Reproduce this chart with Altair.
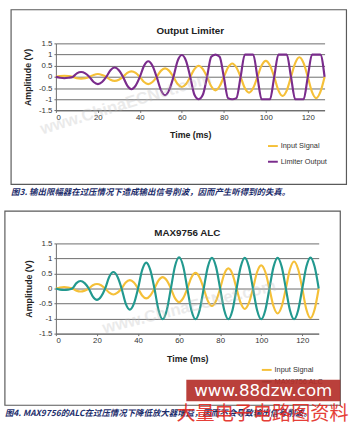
import altair as alt
import pandas as pd

# ---------------- data ----------------
TIME_MS = [0, 2, 4, 6, 8, 10, 12, 14, 16, 18, 20, 22, 24, 26, 28, 30, 32, 34, 36, 38,
           40, 42, 44, 46, 48, 50, 52, 54, 56, 58, 60, 62, 64, 66, 68, 70, 72, 74, 76, 78,
           80, 82, 84, 86, 88, 90, 92, 94, 96, 98, 100, 102, 104, 106, 108, 110, 112, 114,
           116, 118, 120, 122, 124, 126, 128]

TOP_INPUT = [0, 0.035, 0.05, 0.035, 0, -0.06, -0.08, -0.06, 0, 0.09, 0.13, 0.09,
             0, -0.13, -0.18, -0.13, 0, 0.18, 0.25, 0.18, 0, -0.23, -0.32, -0.23,
             0, 0.27, 0.38, 0.27, 0, -0.32, -0.45, -0.32, 0, 0.35, 0.5, 0.35,
             0, -0.42, -0.6, -0.42, 0, 0.42, 0.6, 0.42, 0, -0.5, -0.7, -0.5,
             0, 0.51, 0.72, 0.51, 0, -0.6, -0.85, -0.6, 0, 0.62, 0.88, 0.62,
             0, -0.67, -0.95, -0.67, 0]

TOP_LIMITER = [0, -0.04, -0.06, -0.04, 0, 0.16, 0.22, 0.16, 0, -0.23, -0.32, -0.23,
               0, 0.3, 0.42, 0.3, 0, -0.39, -0.55, -0.39, 0, 0.5, 0.7, 0.5,
               0, -0.58, -0.82, -0.58, 0, 0.72, 0.98, 0.72, 0, -0.8, -1, -0.8,
               0, 0.9, 1, 0.9, 0, -0.95, -1, -0.95, 0, 1, 1, 1,
               0, -1, -1, -1, 0, 1, 1, 1, 0, -1, -1, -1,
               0, 1, 1, 1, 0]

BOTTOM_INPUT = [0, 0.035, 0.05, 0.035, 0, -0.07, -0.1, -0.07, 0, 0.11, 0.15, 0.11,
                0, -0.14, -0.2, -0.14, 0, 0.2, 0.28, 0.2, 0, -0.23, -0.33, -0.23,
                0, 0.27, 0.38, 0.27, 0, -0.32, -0.45, -0.32, 0, 0.37, 0.52, 0.37,
                0, -0.41, -0.58, -0.41, 0, 0.48, 0.67, 0.48, 0, -0.48, -0.68, -0.48,
                0, 0.55, 0.77, 0.55, 0, -0.59, -0.83, -0.59, 0, 0.64, 0.9, 0.64,
                0, -0.7, -0.98, -0.7, 0]

BOTTOM_ALC = [0, -0.035, -0.05, -0.035, 0, 0.18, 0.25, 0.18, 0, -0.27, -0.38, -0.27,
              0, 0.39, 0.55, 0.39, 0, -0.5, -0.7, -0.5, 0, 0.61, 0.86, 0.61,
              0, -0.72, -1.02, -0.72, 0, 0.74, 1.04, 0.74, 0, -0.72, -1.02, -0.72,
              0, 0.72, 1.02, 0.72, 0, -0.72, -1.02, -0.72, 0, 0.72, 1.02, 0.72,
              0, -0.72, -1.02, -0.72, 0, 0.72, 1.02, 0.72, 0, -0.72, -1.02, -0.72,
              0, 0.73, 1.03, 0.73, 0]

X_TICKS = [0, 20, 40, 60, 80, 100, 120]
Y_TICKS = [-1.5, -1, -0.5, 0, 0.5, 1, 1.5]

TOP_TITLE = "Output Limiter"
BOTTOM_TITLE = "MAX9756 ALC"
TOP_SERIES = ["Input Signal", "Limiter Output"]
BOTTOM_SERIES = ["Input Signal", "MAX9756 ALC"]
TOP_CAPTION = "图3. 输出限幅器在过压情况下造成输出信号削波，因而产生听得到的失真。"
BOTTOM_CAPTION = "图4. MAX9756的ALC在过压情况下降低放大器增益，因而不会导致输出信号削波。"
WATERMARK_FAINT = "www.ChinaECNet.com"
WATERMARK_URL = "www.88dzw.com"
WATERMARK_CN = "大量电子电路图资料"

YELLOW = "#f5c038"
PURPLE = "#7a2c8c"
TEAL = "#22998f"
GRID = "#6b6b6b"
NAVY = "#1c2d6b"

FONT = "Liberation Sans"
CJK = "Noto Sans CJK SC"

ONE = alt.Data(values=[{"k": 0}])


def long_df(names, series):
    rows = []
    for name, vals in zip(names, series):
        for t, v in zip(TIME_MS, vals):
            rows.append({"t": t, "v": v, "s": name})
    return pd.DataFrame(rows)


def vrect(x, x2, y, y2, **kw):
    return alt.Chart(ONE).mark_rect(**kw).encode(
        x=alt.value(x), x2=alt.value(x2), y=alt.value(y), y2=alt.value(y2))


def vtext(txt, x, y, **kw):
    return alt.Chart(ONE).mark_text(text=txt, **kw).encode(x=alt.value(x), y=alt.value(y))


def vrule(x, x2, y, color):
    return alt.Chart(ONE).mark_rule(color=color, strokeWidth=2).encode(
        x=alt.value(x), x2=alt.value(x2), y=alt.value(y))


def panel(ox, oy, w, h, cell_top, cell_bottom, box, title, names, series, colors,
          caption, legend_y, faint, extra=None):
    # helpers converting absolute page pixels into plot-relative pixels
    X = lambda a: a - ox
    Y = lambda a: a - oy
    df = long_df(names, series)
    xenc = alt.X("t:Q", scale=alt.Scale(domain=[0, 128], nice=False),
                 axis=alt.Axis(values=X_TICKS, title="Time (ms)", grid=False,
                               tickSize=2, labelPadding=1, labelFontSize=8,
                               labelColor="#333", tickColor=GRID, domainColor=GRID,
                               titleFontSize=9, titleFontWeight="bold", titleColor="#222",
                               titleBaseline="middle", titleY=25, labelFont=FONT,
                               titleFont=FONT))
    yenc = alt.Y("v:Q", scale=alt.Scale(domain=[-1.5, 1.5], nice=False),
                 axis=alt.Axis(values=Y_TICKS, title="Amplitude (V)", grid=True,
                               gridColor=GRID, gridWidth=1, tickSize=2, labelPadding=2,
                               labelFontSize=8, labelColor="#333", tickColor=GRID,
                               domainColor=GRID, titleFontSize=9, titleFontWeight="bold",
                               titleColor="#222", titleX=X(box[4]), titleBaseline="middle",
                               labelExpr="'' + datum.value", labelFont=FONT, titleFont=FONT))
    layers = [
        vrect(X(0), X(354), Y(cell_top), Y(cell_bottom), opacity=0),
        vrect(X(box[0]), X(box[1]), Y(box[2]), Y(box[3]), fillOpacity=0,
              stroke="#5a5a5a", strokeWidth=1.2),
    ]
    for name, c in zip(names, colors):
        layers.append(alt.Chart(df).transform_filter(alt.datum.s == name)
                      .mark_line(color=c, strokeWidth=2.2, interpolate="monotone")
                      .encode(x=xenc, y=yenc))
    layers.append(vtext(WATERMARK_FAINT, X(faint[0]), Y(faint[1]), angle=faint[2],
                        font=FONT, fontSize=17, fontWeight="bold", color="#bdbdbd",
                        opacity=0.3))
    layers.append(vtext(title, w / 2, Y(box[2] + 22), font=FONT, fontSize=10,
                        fontWeight="bold", color="#222"))
    for i, (name, c) in enumerate(zip(names, colors)):
        ly = Y(legend_y[i])
        layers.append(vrule(X(267), X(277), ly, c))
        layers.append(vtext(name, X(280), ly, align="left", font=FONT, fontSize=7.5,
                            color="#333"))
    layers.append(vtext(caption, X(5), Y(box[3] + 7.5), align="left", font=CJK,
                        fontSize=8.6, fontWeight="bold", fontStyle="italic", color=NAVY))
    if extra:
        layers.extend(extra(X, Y))
    return alt.layer(*layers).properties(width=w, height=h)


def red_marks(X, Y):
    return [
        vrect(X(190), X(347), Y(382), Y(404), fill="#b4302a", opacity=0.92),
        vtext(WATERMARK_URL, X(268.5), Y(393.5), font="DejaVu Sans", fontSize=17,
              color="white"),
        vtext(WATERMARK_CN, X(180), Y(423), align="left", baseline="alphabetic",
              font=CJK, fontSize=19.5, color="#e32a22", opacity=0.9),
    ]


top = panel(ox=50.7, oy=39.3, w=274, h=68.4, cell_top=0, cell_bottom=205,
            box=(5, 347, 5, 183, 22), title=TOP_TITLE, names=TOP_SERIES,
            series=[TOP_INPUT, TOP_LIMITER], colors=[YELLOW, PURPLE],
            caption=TOP_CAPTION, legend_y=[144, 160], faint=(122, 101, 343))

bottom = panel(ox=57, oy=243, w=268, h=92, cell_top=205, cell_bottom=425,
               box=(5, 347, 210, 408, 29), title=BOTTOM_TITLE, names=BOTTOM_SERIES,
               series=[BOTTOM_INPUT, BOTTOM_ALC], colors=[YELLOW, TEAL],
               caption=BOTTOM_CAPTION, legend_y=[372, 384], faint=(193, 308, 346),
               extra=red_marks)

chart = (alt.vconcat(top, bottom, spacing=0)
         .properties(padding=0, background="white")
         .configure_view(stroke=None))

chart.save("out.html", embed_options={"renderer": "svg", "actions": False})
